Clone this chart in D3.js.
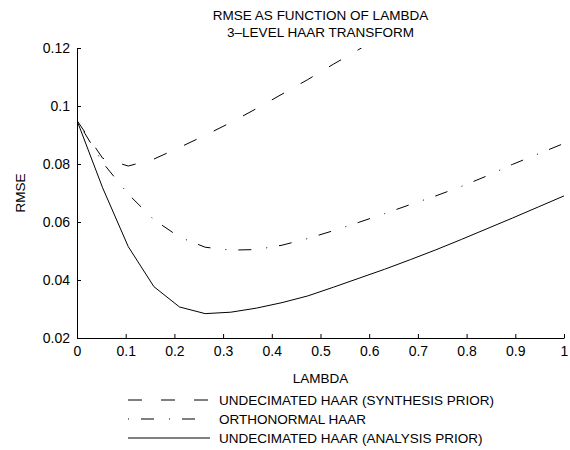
<!DOCTYPE html>
<html>
<head>
<meta charset="utf-8">
<script src="https://cdn.jsdelivr.net/npm/d3@7"></script>
<style>
  body { margin: 0; background: #fff; }
  svg text { font-family: "Liberation Sans", Arial, sans-serif; fill: #000; }
</style>
</head>
<body>
<svg id="chart" width="570" height="450"></svg>
<script>
// lambda sample points
const lambdas = [0, 0.0526, 0.1053, 0.1579, 0.2105, 0.2632, 0.3158, 0.3684, 0.4211, 0.4737,
    0.5263, 0.5789, 0.6316, 0.6842, 0.7368, 0.7895, 0.8421, 0.8947, 0.9474, 1];

// RMSE per method
const synthesis = [0.095, 0.082, 0.0793, 0.0817, 0.0857, 0.0899, 0.0943, 0.0991, 0.1041, 0.1091,
    0.1144, 0.1195, 0.125];
const orthonormal = [0.095, 0.0805, 0.0696, 0.0608, 0.0548, 0.0513, 0.0503, 0.0505, 0.0520, 0.0543,
    0.0570, 0.0599, 0.0629, 0.0660, 0.0690, 0.0723, 0.0759, 0.0799, 0.0835, 0.0871];
const analysis = [0.095, 0.0718, 0.0515, 0.0377, 0.0307, 0.0284, 0.0289, 0.0303, 0.0322, 0.0345,
    0.0375, 0.0406, 0.0437, 0.0470, 0.0504, 0.0540, 0.0577, 0.0614, 0.0652, 0.0690];

const seriesNames = ["UNDECIMATED HAAR (SYNTHESIS PRIOR)", "ORTHONORMAL HAAR", "UNDECIMATED HAAR (ANALYSIS PRIOR)"];
const xTicks = [0, 0.1, 0.2, 0.3, 0.4, 0.5, 0.6, 0.7, 0.8, 0.9, 1];
const yTicks = [0.02, 0.04, 0.06, 0.08, 0.1, 0.12];
const titleLines = ["RMSE AS FUNCTION OF LAMBDA", "3\u2013LEVEL HAAR TRANSFORM"];

const dashes = ["14,19", "1,12,13,15", null];

const svg = d3.select("#chart");
const mLeft = 77, mRight = 564, mTop = 48, mBottom = 338;

const x = d3.scaleLinear().domain([0, 1]).range([mLeft, mRight]);
const y = d3.scaleLinear().domain([0.02, 0.12]).range([mBottom, mTop]);

svg.append("defs").append("clipPath").attr("id", "plotclip")
    .append("rect")
    .attr("x", mLeft).attr("y", mTop)
    .attr("width", mRight - mLeft).attr("height", mBottom - mTop);

// axes
const xAxis = d3.axisBottom(x).tickValues(xTicks)
    .tickFormat(d3.format("~g"))
    .tickSizeInner(-4).tickSizeOuter(0).tickPadding(8);
const yAxis = d3.axisLeft(y).tickValues(yTicks)
    .tickFormat(d3.format("~g"))
    .tickSizeInner(-4).tickSizeOuter(0).tickPadding(7);

const gx = svg.append("g").attr("transform", `translate(0,${mBottom})`).call(xAxis);
const gy = svg.append("g").attr("transform", `translate(${mLeft},0)`).call(yAxis);
[gx, gy].forEach(g => {
    g.attr("font-family", null).attr("font-size", null);
    g.selectAll("text").attr("font-size", "14px");
    g.selectAll("path, line").attr("stroke", "#000").attr("stroke-width", 1);
});

// curves
const line = d3.line()
    .x((d, i) => x(lambdas[i]))
    .y(d => y(d));

const plot = svg.append("g").attr("clip-path", "url(#plotclip)");
[synthesis, orthonormal, analysis].forEach((s, i) => {
    plot.append("path")
        .datum(s)
        .attr("d", line)
        .attr("fill", "none")
        .attr("stroke", "#000")
        .attr("stroke-width", 1)
        .attr("stroke-dasharray", dashes[i]);
});

// title
svg.selectAll(".title").data(titleLines).enter()
    .append("text").attr("class", "title")
    .attr("x", (mLeft + mRight) / 2)
    .attr("y", (d, i) => 20 + i * 17)
    .attr("text-anchor", "middle")
    .attr("font-size", "13.5px")
    .text(d => d);

// axis labels
svg.append("text")
    .attr("x", (mLeft + mRight) / 2).attr("y", 383)
    .attr("text-anchor", "middle").attr("font-size", "13.5px")
    .text("LAMBDA");
svg.append("text")
    .attr("transform", `translate(25,${(mTop + mBottom) / 2}) rotate(-90)`)
    .attr("text-anchor", "middle").attr("font-size", "13.5px")
    .text("RMSE");

// legend
const lg = svg.append("g");
seriesNames.forEach((name, i) => {
    const ly = 400 + i * 19;
    lg.append("line")
        .attr("x1", 128).attr("x2", 210)
        .attr("y1", ly).attr("y2", ly)
        .attr("stroke", "#000").attr("stroke-width", 1)
        .attr("stroke-dasharray", dashes[i]);
    lg.append("text")
        .attr("x", 219).attr("y", ly + 5)
        .attr("font-size", "13.5px")
        .text(name);
});
</script>
</body>
</html>
